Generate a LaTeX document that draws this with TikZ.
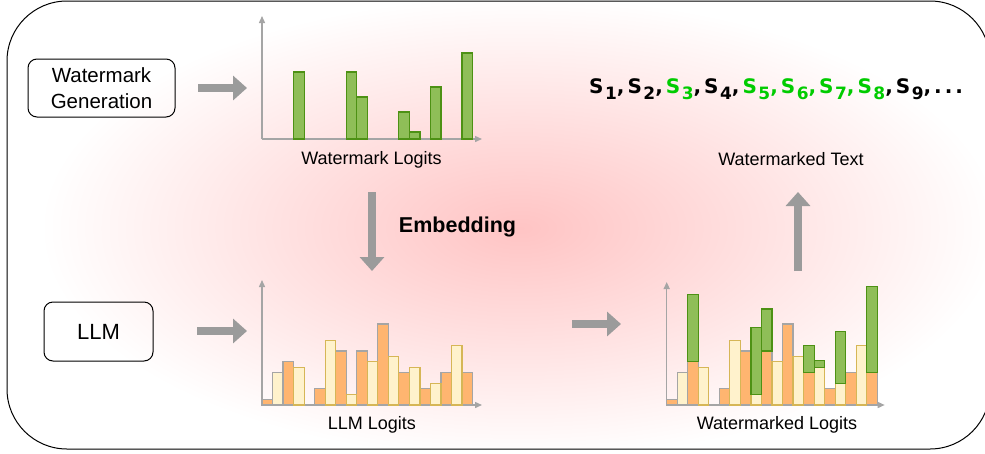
\documentclass[tikz,border=0pt]{standalone}
\usepackage{fontspec}
\setmainfont{Liberation Sans}
\newfontfamily\tokfont{DejaVu Sans}
\usetikzlibrary{arrows.meta, positioning}

\definecolor{glowpink}{RGB}{255,196,196}
\definecolor{arrowgray}{RGB}{155,155,155}
\definecolor{axisgray}{RGB}{165,165,165}
\definecolor{barorange}{RGB}{255,181,112}
\definecolor{barylw}{RGB}{255,242,204}
\definecolor{barylwline}{RGB}{214,182,86}
\definecolor{bargreen}{RGB}{143,190,88}
\definecolor{bargreenline}{RGB}{77,145,20}
\definecolor{tokgreen}{RGB}{0,204,0}

\newcommand{\tok}[2]{\textcolor{#1}{S\kern1.5pt\raisebox{-6pt}{\fontsize{17}{17}\selectfont #2}}}
\newcommand{\sep}[1]{\textcolor{#1}{,}\kern3pt}

\begin{document}
\begin{tikzpicture}[x=1pt,y=-1pt,
    lbl/.style={font=\fontsize{18}{21}\selectfont, anchor=base},
    srcbox/.style={draw, rounded corners=9pt, line width=1pt, align=center,
        font=\fontsize{20.5}{26.5}\selectfont},
    bigarrow/.style={draw=arrowgray, line width=8pt, -{Triangle[width=24pt,length=14pt]}},
    axisline/.style={draw=axisgray, line width=1.4pt, -{Triangle[width=6pt,length=7pt]}},
    orgbar/.style={fill=barorange, draw=axisgray, line width=1.2pt},
    ylwbar/.style={fill=barylw, draw=barylwline, line width=1.2pt},
    grnbar/.style={fill=bargreen, draw=bargreenline, line width=1.2pt}]

    \useasboundingbox (0,0) rectangle (985,453);

    %--------------------------------
    % background frame with glow
    %--------------------------------
    \begin{scope}
        \clip[rounded corners=60pt] (7,1) rectangle (990,449);
        \shade[inner color=glowpink, outer color=white] (40,-4) rectangle (1000,460);
    \end{scope}
    \draw[line width=1pt, rounded corners=60pt] (7,1) rectangle (990,449);

    %--------------------------------
    % sources
    %--------------------------------
    \node[srcbox, minimum width=147pt, minimum height=58pt] (wmgen) at (101.5,88) {Watermark\\Generation};
    \node[srcbox, minimum width=109pt, minimum height=59pt, font=\fontsize{22}{26}\selectfont] (llm) at (98.5,331.5) {LLM};

    %--------------------------------
    % Watermark Logits
    %--------------------------------
    \begin{scope}[shift={(262,139)}]
        \draw[axisline] (0,0) -- (0,-123);
        \draw[axisline] (0,0) -- (220,0);
        \foreach \s/\h in {3/67,8/67,9/42,13/27,14/7,16/52,19/86}{
            \draw[grnbar] (\s*10.53,0) rectangle ++(10.53,-\h);
        }
    \end{scope}
    \node[lbl] (wmlogits) at (371.5,164) {Watermark Logits};

    %--------------------------------
    % LLM Logits
    %--------------------------------
    \begin{scope}[shift={(262,405)}]
        \draw[axisline] (0,0) -- (0,-125);
        \draw[axisline] (0,0) -- (220,0);
        \foreach \s/\h in {0/1,2/8,5/3,7/10,9/10,11/15,13/6,15/3,17/6,19/6}{
            \draw[orgbar] (\s*10.53,0) rectangle ++(10.53,-\h*5.4);
        }
        \foreach \s/\h in {3/7,6/12,8/2,10/8,12/9,14/7,16/4,18/11}{
            \draw[ylwbar] (\s*10.53,0) rectangle ++(10.53,-\h*5.4);
        }
        \draw[ylwbar, draw=axisgray] (10.53,0) rectangle ++(10.53,-6*5.4);
    \end{scope}
    \node[lbl] (llmlogits) at (372,429) {LLM Logits};

    %--------------------------------
    % Watermarked Logits
    %--------------------------------
    \begin{scope}[shift={(666.7,405)}]
        \draw[axisline] (0,0) -- (0,-123);
        \draw[axisline] (0,0) -- (218,0);
        \foreach \s/\h in {0/1,2/8,5/3,7/10,9/10,11/15,13/6,15/3,17/6,19/6}{
            \draw[orgbar] (\s*10.53,0) rectangle ++(10.53,-\h*5.4);
        }
        \foreach \s/\h in {3/7,6/12,8/2,10/8,12/9,14/7,16/4,18/11}{
            \draw[ylwbar] (\s*10.53,0) rectangle ++(10.53,-\h*5.4);
        }
        \draw[ylwbar, draw=axisgray] (10.53,0) rectangle ++(10.53,-6*5.4);
        % green part on top
        \foreach \s/\b/\h in {2/8/67,8/2/67,9/10/42,13/6/27,14/7/7,16/4/52,19/6/86}{
            \draw[grnbar] (\s*10.53,-\b*5.4) rectangle ++(10.53,-\h);
        }
    \end{scope}
    \node[lbl] (wmedlogits) at (777,429) {Watermarked Logits};

    %--------------------------------
    % Watermarked Text
    %--------------------------------
    \node[anchor=base west, inner sep=0pt, font=\tokfont\bfseries\fontsize{20}{22}\selectfont] (seq) at (589,93.3)
        {\tok{black}{1}\sep{black}\tok{black}{2}\sep{black}\tok{tokgreen}{3}\sep{black}\tok{black}{4}\sep{black}%
         \tok{tokgreen}{5}\sep{tokgreen}\tok{tokgreen}{6}\sep{tokgreen}\tok{tokgreen}{7}\sep{tokgreen}%
         \tok{tokgreen}{8}\sep{black}\tok{black}{9}\sep{black}.\kern3pt.\kern3pt.};
    \node[lbl] (wmedtext) at (791,165) {Watermarked Text};

    \node[lbl, font=\bfseries\fontsize{21.5}{24}\selectfont] (embed) at (457.5,232.7) {Embedding};

    %--------------------------------
    % arrows
    %--------------------------------
    \coordinate (genS) at (198,88);   \coordinate (genE) at (247,88);
    \coordinate (llmS) at (197,331);  \coordinate (llmE) at (247,331);
    \coordinate (embS) at (372,192);  \coordinate (embE) at (372,271);
    \coordinate (midS) at (572,324);  \coordinate (midE) at (621,324);
    \coordinate (upS)  at (798,271);  \coordinate (upE)  at (798,192);

    \draw[bigarrow] (genS) -- (genE);
    \draw[bigarrow] (llmS) -- (llmE);
    \draw[bigarrow] (embS) -- (embE);
    \draw[bigarrow] (midS) -- (midE);
    \draw[bigarrow] (upS) -- (upE);

\end{tikzpicture}
\end{document}
